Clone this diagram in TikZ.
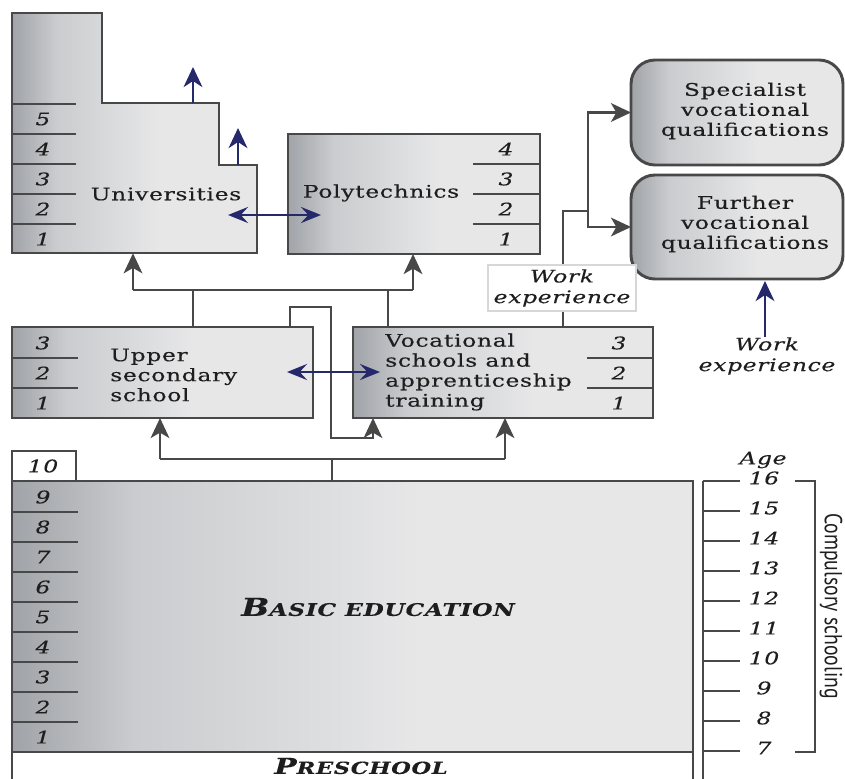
\documentclass[tikz,border=0pt]{standalone}
\usepackage{fontspec}
\setmainfont{DejaVu Serif}[FakeStretch=1.35,LetterSpace=4,FakeBold=0.3]
\newfontfamily\sansc{PT Sans}[FakeStretch=0.8]
\usetikzlibrary{arrows.meta,fit}
\definecolor{sdark}{RGB}{160,163,167}
\definecolor{smid}{RGB}{202,204,207}
\definecolor{slight}{RGB}{231,231,232}
\definecolor{edge}{RGB}{72,72,72}
\definecolor{navy}{RGB}{38,40,108}
\definecolor{ink}{RGB}{30,30,30}
\definecolor{wlbord}{RGB}{215,215,215}
\pgfdeclarehorizontalshading{boxshade}{100bp}{color(0bp)=(sdark); color(25bp)=(sdark); color(34bp)=(smid); color(55bp)=(slight); color(100bp)=(slight)}
\begin{document}
\begin{tikzpicture}[x=0.75pt,y=-0.75pt,
  box/.style={draw=edge, line width=2.2pt, shade, shading=boxshade, inner sep=0pt, outer sep=0pt},
  rbox/.style={box, rounded corners=18pt},
  divl/.style={draw=edge, line width=1.5pt},
  conn/.style={draw=edge, line width=2pt},
  garr/.style={conn, -{Stealth[length=15pt,width=14pt,inset=4pt]}},
  narr/.style={draw=navy, line width=2.2pt, -{Stealth[length=15pt,width=14pt,inset=4.5pt]}},
  ndarr/.style={draw=navy, line width=2.2pt, {Stealth[length=15pt,width=12pt,inset=5.5pt]}-{Stealth[length=15pt,width=12pt,inset=5.5pt]}},
  num/.style={font=\itshape\fontsize{13}{15}\selectfont, text=ink, inner sep=0pt},
  lbl/.style={font=\fontsize{13}{15}\selectfont, text=ink, inner sep=0pt, align=left},
  clbl/.style={lbl, align=center},
  ilbl/.style={font=\itshape\fontsize{13}{15.5}\selectfont, text=ink, inner sep=0pt, align=center},
]
\useasboundingbox (0,0) rectangle (845,778);

% ---- Universities
\shade[shading=boxshade, draw=edge, line width=2.2pt] (12,253) -- (12,13) -- (102,13) -- (102,103) -- (219,103) -- (219,165) -- (257,165) -- (257,253) -- cycle;
\node[fit={(12,13) (257,253)}, inner sep=0pt] (uni) {};
\foreach \yy in {104,134,164,194,224} \draw[divl] (12,\yy) -- (76,\yy);
\foreach \n/\yy in {5/119,4/149,3/179,2/209,1/239} \node[num] (u\n) at (43,\yy) {\n};
\node[lbl] (unit) at (166,194) {Universities};

% ---- Polytechnics
\node[box, fit={(288,134) (540,254)}] (poly) {};
\foreach \yy in {164,194,224} \draw[divl] (473,\yy) -- (540,\yy);
\foreach \n/\yy in {4/149,3/179,2/209,1/239} \node[num] (p\n) at (506,\yy) {\n};
\node[lbl] (polyt) at (381,193) {Polytechnics};

% ---- Upper secondary
\node[box, fit={(12,327) (313,418)}] (us) {};
\foreach \yy in {358,388} \draw[divl] (12,\yy) -- (78,\yy);
\foreach \n/\yy in {3/343,2/373,1/403} \node[num] (s\n) at (43,\yy) {\n};
\node[lbl, anchor=west] (ust) at (110,375) {Upper\\secondary\\school};

% ---- Vocational
\node[box, fit={(353,327) (653,418)}] (voc) {};
\foreach \yy in {358,388} \draw[divl] (587,\yy) -- (653,\yy);
\foreach \n/\yy in {3/343,2/373,1/403} \node[num] (v\n) at (619,\yy) {\n};
\node[lbl, anchor=west] (voct) at (385,372) {Vocational\\schools and\\apprenticeship\\training};

% ---- Qualifications
\node[rbox, fit={(631,60) (843,165)}] (spec) {};
\node[clbl] (spect) at (745,111) {Specialist\\vocational\\qualifications};
\node[rbox, fit={(631,175) (843,279)}] (fvq) {};
\node[clbl] (fvqt) at (745,224) {Further\\vocational\\qualifications};

% ---- Basic education
\node[draw=edge, line width=1.5pt, fill=white, fit={(12,451) (76,481)}, inner sep=0pt] (ten) {};
\node[num] at (43,466) {10};
\node[box, fit={(12,481) (693,752)}] (basic) {};
\foreach \yy in {512,542,572,602,632,662,692,722} \draw[divl] (12,\yy) -- (78,\yy);
\foreach \n [evaluate=\n as \yy using 767-30*\n] in {1,...,9} \node[num] (b\n) at (43,\yy) {\n};
\node[text=ink, inner sep=0pt, font=\bfseries\itshape] (basict) at (378,607)
  {{\fontsize{18.5}{20}\selectfont B}{\fontsize{13}{15}\selectfont ASIC EDUCATION}};
\draw[conn, line width=2.2pt] (basic.south west) -- ++(0,40);
\draw[conn, line width=2.2pt] (basic.south east) -- ++(0,40);
\node[text=ink, inner sep=0pt, font=\bfseries\itshape] (pre) at (361,766)
  {{\fontsize{16.5}{18}\selectfont P}{\fontsize{12.5}{14}\selectfont RESCHOOL}};

% ---- Age scale
\draw[divl] (703,481) -- (703,790);
\foreach \k in {0,...,10} \draw[divl] (703,481+30*\k) -- (740,481+30*\k);
\foreach \a [evaluate=\a as \yy using 478+30*(16-\a)] in {7,...,16} \node[num] at (764,\yy) {\a};
\node[num] at (764,786) {6};
\node[num] (age) at (763,460) {Age};
\draw[divl] (795,481) -- (815,481) -- (815,752) -- (795,752);
\node[rotate=-90, text=ink, inner sep=0pt, font=\sansc\fontsize{18.5}{20}\selectfont] (comp) at (831,606) {Compulsory schooling};

% ---- Gray connectors
\coordinate (jU) at (193,290); \coordinate (jV) at (388,290);
\coordinate (jL) at (133,290); \coordinate (jR) at (413,290);
\draw[conn] (us.north -| jU) -- (jU);
\draw[conn] (voc.north -| jV) -- (jV);
\draw[conn] (jL) -- (jR);
\draw[garr] (jL) -- (jL |- uni.south);
\draw[garr] (jR) -- (jR |- poly.south);

\coordinate (l1) at (290,307); \coordinate (l2) at (331,307);
\coordinate (l3) at (331,438); \coordinate (l4) at (373,438);
\draw[garr] (us.north -| l1) -- (l1) -- (l2) -- (l3) -- (l4) -- (l4 |- voc.south);

\coordinate (b0) at (332,459); \coordinate (bL) at (160,459); \coordinate (bR) at (505,459);
\draw[conn] (basic.north -| b0) -- (b0);
\draw[conn] (bL) -- (bR);
\draw[garr] (bL) -- (bL |- us.south);
\draw[garr] (bR) -- (bR |- voc.south);

\coordinate (q0) at (563,211); \coordinate (q1) at (588,211);
\draw[conn] (voc.north -| q0) -- (q0) -- (q1);
\draw[garr] (q1) |- (spec.west);
\draw[garr] (q1) |- (fvq.west);
\node[ilbl, fill=white, draw=wlbord, line width=0.8pt, minimum width=111pt, minimum height=34.5pt] (wx1) at (562,288) {Work\\experience};

% ---- Navy arrows
\coordinate (ua1) at (193,103); \coordinate (ua1e) at (193,67);
\coordinate (ua2) at (238,165); \coordinate (ua2e) at (238,128);
\draw[narr] (ua1) -- (ua1e);
\draw[narr] (ua2) -- (ua2e);
\coordinate (up1) at (228,215); \coordinate (up2) at (321,215);
\draw[ndarr] (up1) -- (up2);
\coordinate (sv1) at (287,372); \coordinate (sv2) at (380,372);
\draw[ndarr] (sv1) -- (sv2);
\node[ilbl] (wx2) at (767,356) {Work\\experience};
\coordinate (wa) at (765,281);
\draw[narr] (wx2.north -| wa) -- (wa);
\end{tikzpicture}
\end{document}
